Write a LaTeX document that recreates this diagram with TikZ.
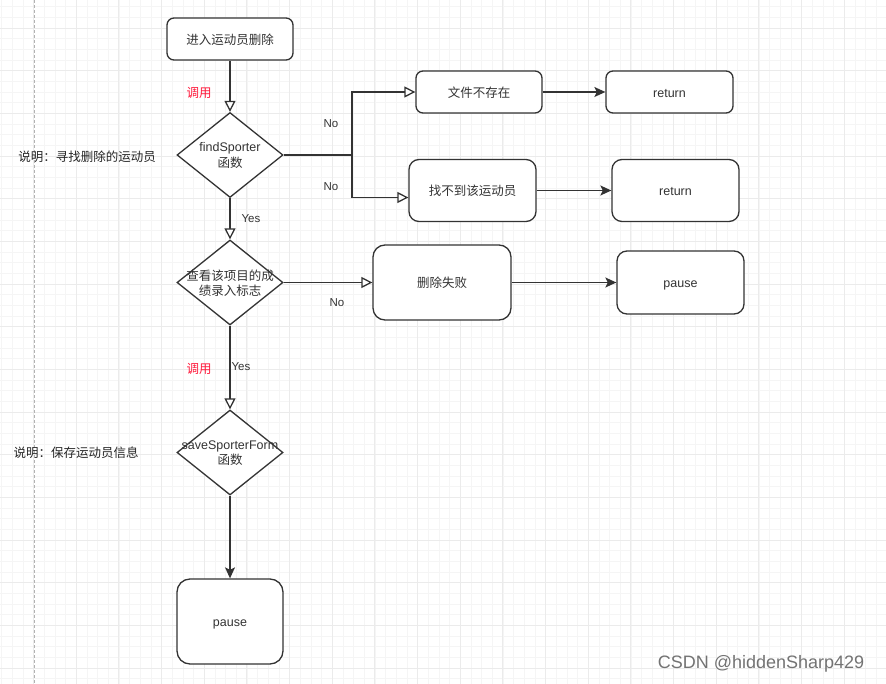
\documentclass[tikz,border=0pt]{standalone}
\usepackage{fontspec}
\setmainfont{Liberation Sans}
\newfontfamily\cjk{Noto Sans CJK SC}
\usetikzlibrary{arrows.meta,shapes.geometric}
\definecolor{lc}{HTML}{333333}
\definecolor{tc}{HTML}{333333}
\definecolor{redtxt}{HTML}{FF1A3C}
\begin{document}
\begin{tikzpicture}[x=1pt,y=-1pt,
  line/.style={draw=lc, line width=1.3pt},
  openarr/.style={-{Triangle[open, length=11pt, width=11pt, fill=white]}},
  fillarr/.style={-{Stealth[length=11pt, width=10pt, inset=2.5pt]}},
  box/.style={draw=lc, line width=1.3pt, fill=white, inner sep=0pt, text=tc, font=\fontsize{12.5}{15}\selectfont, align=center, text height=11pt, text depth=0.5pt},
  dia/.style={draw=lc, line width=1.3pt, fill=white, diamond, inner sep=0pt, minimum width=106pt, minimum height=85pt},
  dtext/.style={text=tc, font=\fontsize{12.5}{15.5}\selectfont, align=center, inner sep=0pt},
  lbl/.style={text=tc, font=\fontsize{11.5}{13}\selectfont, inner sep=0pt},
  redlbl/.style={text=redtxt, font=\cjk\fontsize{12.5}{14}\selectfont, inner sep=0pt},
  note/.style={text=black!85, font=\cjk\fontsize{12.5}{14}\selectfont, inner sep=0pt},
  gminor/.style={draw=black!4, line width=0.6pt},
  gmajor/.style={draw=black!8, line width=0.8pt}
]
\useasboundingbox (0,0) rectangle (886,684);
\fill[white] (0,0) rectangle (886,684);
% grid
\foreach \i in {-3,...,80} {\draw[gminor] ({33.5+10.667*\i},0) -- ({33.5+10.667*\i},684);}
\foreach \i in {-2,...,62} {\draw[gminor] (0,{28+10.667*\i}) -- (886,{28+10.667*\i});}
\foreach \i in {0,...,20} {\draw[gmajor] ({33.5+42.667*\i},0) -- ({33.5+42.667*\i},684);}
\foreach \i in {0,...,15} {\draw[gmajor] (0,{28+42.667*\i}) -- (886,{28+42.667*\i});}
\draw[black!30, line width=1pt, dash pattern=on 3pt off 2pt] (34,0) -- (34,684);

% nodes
\node[box, rounded corners=7pt, minimum width=126pt, minimum height=42pt] (start) at (230,39) {\cjk 进入运动员删除};

\node[dia] (d1) at (230,155) {};
\node[dtext] (d1t) at (230,155.5) {findSporter\\\cjk 函数};

\node[box, rounded corners=7pt, minimum width=126pt, minimum height=42pt] (nofile) at (479,92) {\cjk 文件不存在};
\node[box, rounded corners=7pt, minimum width=127pt, minimum height=42pt] (ret1) at (669.5,92) {return};

\node[box, rounded corners=10pt, minimum width=127pt, minimum height=62pt] (notfound) at (472.5,190.5) {\cjk 找不到该运动员};
\node[box, rounded corners=10pt, minimum width=127pt, minimum height=62pt] (ret2) at (675.5,190.5) {return};

\node[dia] (d2) at (230,282.5) {};
\node[dtext] (d2t) at (230,283) {\cjk 查看该项目的成\\\cjk 绩录入标志};

\node[box, rounded corners=12pt, minimum width=138pt, minimum height=75pt] (fail) at (442,282.5) {\cjk 删除失败};
\node[box, rounded corners=10pt, minimum width=127pt, minimum height=63pt] (pause1) at (680.5,282.5) {pause};

\node[dia] (d3) at (230,452.5) {};
\node[dtext] (d3t) at (230,453) {saveSporterForm\\\cjk 函数};

\node[box, rounded corners=13pt, minimum width=106pt, minimum height=85pt] (pause2) at (230,621.5) {pause};

\coordinate (split) at (352,155);

% connectors
\draw[line, openarr] (start) -- (d1.north);
\draw[line] (d1.east) -- (split);
\draw[line, openarr] (split) |- (nofile.west);
\draw[line, openarr] (split) |- ([yshift=-7pt]notfound.west);
\draw[line, fillarr] (nofile) -- (ret1);
\draw[line, fillarr] (notfound) -- (ret2);
\draw[line, openarr] (d1.south) -- (d2.north);
\draw[line, openarr] (d2.east) -- (fail.west);
\draw[line, fillarr] (fail) -- (pause1);
\draw[line, openarr] (d2.south) -- (d3.north);
\draw[line, fillarr] (d3.south) -- (pause2.north);

% labels
\node[redlbl] (l1) at (199,93) {调用};
\node[lbl] (no1) at (331,124) {No};
\node[lbl] (no2) at (331,187) {No};
\node[lbl] (yes1) at (251,219) {Yes};
\node[lbl] (no3) at (337,303) {No};
\node[redlbl] (l2) at (199,369) {调用};
\node[lbl] (yes2) at (241,367) {Yes};
\node[note] (n1) at (87,157) {说明：寻找删除的运动员};
\node[note] (n2) at (76,453) {说明：保存运动员信息};
\node[text=black!55, font=\fontsize{18}{20}\selectfont, inner sep=0pt] (wm) at (761,664) {CSDN @hiddenSharp429};
\end{tikzpicture}
\end{document}
